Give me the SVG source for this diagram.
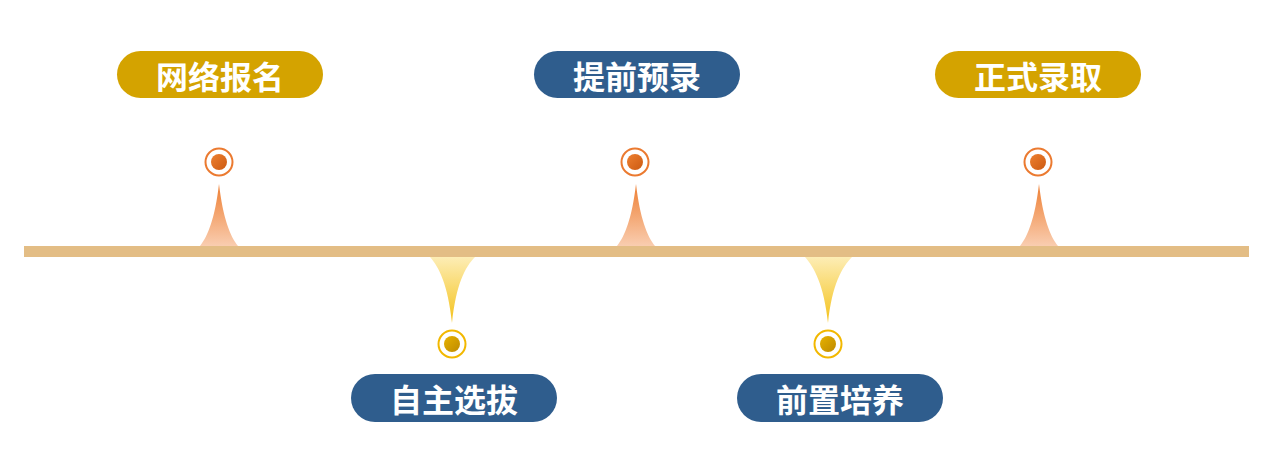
<svg xmlns="http://www.w3.org/2000/svg" width="1268" height="459" viewBox="0 0 1268 459">
<style>
.pill-t{font-family:"Noto Sans CJK SC","Noto Sans",sans-serif;font-weight:bold;font-size:32px;fill:#ffffff;text-anchor:middle;dominant-baseline:central}
.gold{fill:#D4A300}
.blue{fill:#2F5D8D}
.ring-o{fill:#ffffff;stroke:#EB7A30;stroke-width:2}
.ring-y{fill:#ffffff;stroke:#F2B800;stroke-width:2}
</style>
<defs>
<linearGradient id="spikeUp" x1="0" y1="0" x2="0" y2="1">
<stop offset="0" stop-color="#EE7F33"/>
<stop offset="1" stop-color="#F9CDB0"/>
</linearGradient>
<linearGradient id="spikeDown" x1="0" y1="0" x2="0" y2="1">
<stop offset="0" stop-color="#FDEDB5"/>
<stop offset="1" stop-color="#F4C21A"/>
</linearGradient>
<linearGradient id="dotO" x1="0" y1="0" x2="1" y2="1">
<stop offset="0" stop-color="#EE8030"/>
<stop offset="1" stop-color="#CC5A12"/>
</linearGradient>
<linearGradient id="dotY" x1="0" y1="0" x2="1" y2="1">
<stop offset="0" stop-color="#E7B200"/>
<stop offset="1" stop-color="#BE8A00"/>
</linearGradient>
</defs>
<g id="connectors">
<rect x="24" y="246" width="1225" height="11" fill="#E3BD85"/>
<path d="M200 246 C208 236 215 218 219 184 C223 218 230 236 238 246 Z" fill="url(#spikeUp)"/>
<path d="M617 246 C625 236 632 218 636 184 C640 218 647 236 655 246 Z" fill="url(#spikeUp)"/>
<path d="M1020 246 C1028 236 1035 218 1039 184 C1043 218 1050 236 1058 246 Z" fill="url(#spikeUp)"/>
<path d="M430 257 C439 267 448 285 452 323 C456 285 465 267 475 257 Z" fill="url(#spikeDown)"/>
<path d="M805 257 C814 267 824 285 828 323 C832 285 842 267 852 257 Z" fill="url(#spikeDown)"/>
</g>
<g id="node-wangluobaoming">
<circle class="ring-o" cx="219" cy="162" r="13.5"/>
<circle cx="219" cy="162" r="8" fill="url(#dotO)"/>
<rect class="gold" x="117" y="51" width="206" height="47" rx="23.5"/>
<text class="pill-t" x="220" y="74.5">网络报名</text>
</g>
<g id="node-tiqianyulu">
<circle class="ring-o" cx="635" cy="162" r="13.5"/>
<circle cx="635" cy="162" r="8" fill="url(#dotO)"/>
<rect class="blue" x="534" y="51" width="206" height="47" rx="23.5"/>
<text class="pill-t" x="637" y="74.5">提前预录</text>
</g>
<g id="node-zhengshiluqu">
<circle class="ring-o" cx="1038" cy="162" r="13.5"/>
<circle cx="1038" cy="162" r="8" fill="url(#dotO)"/>
<rect class="gold" x="935" y="51" width="206" height="47" rx="23.5"/>
<text class="pill-t" x="1038" y="74.5">正式录取</text>
</g>
<g id="node-zizhuxuanba">
<circle class="ring-y" cx="452" cy="344" r="13.5"/>
<circle cx="452" cy="344" r="8" fill="url(#dotY)"/>
<rect class="blue" x="351" y="374" width="206" height="48" rx="24"/>
<text class="pill-t" x="454" y="398">自主选拔</text>
</g>
<g id="node-qianzhipeiyang">
<circle class="ring-y" cx="828" cy="344" r="13.5"/>
<circle cx="828" cy="344" r="8" fill="url(#dotY)"/>
<rect class="blue" x="737" y="374" width="206" height="48" rx="24"/>
<text class="pill-t" x="840" y="398">前置培养</text>
</g>
</svg>
